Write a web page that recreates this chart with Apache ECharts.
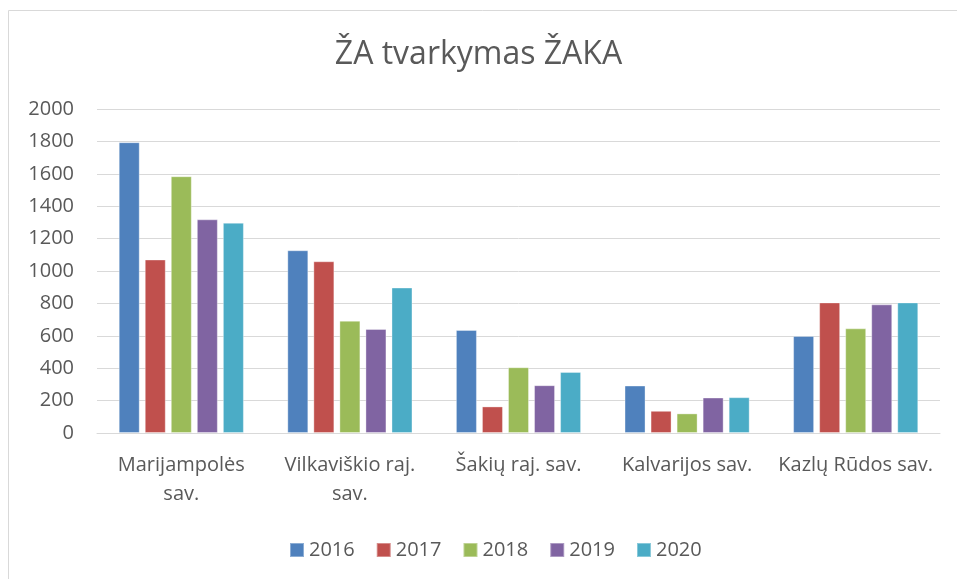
<!DOCTYPE html>
<html>
<head>
<meta charset="utf-8">
<script src="https://cdn.jsdelivr.net/npm/echarts@6/dist/echarts.min.js"></script>
<style>
  html, body { margin: 0; padding: 0; background: #fff; }
  #chart { width: 957px; height: 579px; }
</style>
</head>
<body>
<div id="chart"></div>
<script>
// categories and values
const categories = ['Marijampolės\nsav.', 'Vilkaviškio raj.\nsav.', 'Šakių raj. sav.', 'Kalvarijos sav.', 'Kazlų Rūdos sav.']
const years = ['2016', '2017', '2018', '2019', '2020']
const v2016 = [1795, 1128, 636, 293, 599]
const v2017 = [1071, 1060, 164, 137, 806]
const v2018 = [1585, 693, 406, 121, 646]
const v2019 = [1319, 642, 295, 219, 794]
const v2020 = [1298, 898, 377, 221, 806]
const yTicks = [0, 200, 400, 600, 800, 1000, 1200, 1400, 1600, 1800, 2000]

const colors = ['#4F81BD', '#C0504D', '#9BBB59', '#8064A2', '#4BACC6']
const values = [v2016, v2017, v2018, v2019, v2020]
const font = '"Open Sans", "Noto Sans", sans-serif'

const chart = echarts.init(document.getElementById('chart'), null, { renderer: 'canvas' })

chart.setOption({
  animation: false,
  color: colors,
  textStyle: { fontFamily: font },
  title: {
    text: 'ŽA tvarkymas ŽAKA',
    left: 'center',
    top: 34,
    textStyle: { fontFamily: font, fontSize: 32, fontWeight: 'normal', color: '#595959' }
  },
  graphic: [
    { type: 'line', shape: { x1: 8.5, y1: 10.5, x2: 957, y2: 10.5 }, style: { stroke: '#D9D9D9', lineWidth: 1 } },
    { type: 'line', shape: { x1: 8.5, y1: 10.5, x2: 8.5, y2: 579 }, style: { stroke: '#D9D9D9', lineWidth: 1 } }
  ],
  legend: {
    data: years,
    left: 284,
    top: 535,
    itemWidth: 14,
    itemHeight: 14,
    itemGap: 21,
    icon: 'rect',
    textStyle: { fontFamily: font, fontSize: 20, color: '#595959' }
  },
  grid: { left: 97, right: 17, top: 109, bottom: 146, containLabel: false },
  xAxis: {
    type: 'category',
    data: categories,
    axisLine: { lineStyle: { color: '#D9D9D9', width: 1 } },
    axisTick: { show: false },
    axisLabel: {
      interval: 0,
      margin: 18,
      fontFamily: font,
      fontSize: 20,
      lineHeight: 29,
      color: '#595959'
    }
  },
  yAxis: {
    type: 'value',
    min: 0,
    max: yTicks[yTicks.length - 1],
    interval: 200,
    axisLine: { show: false },
    axisTick: { show: false },
    splitLine: { lineStyle: { color: '#D9D9D9', width: 1 } },
    axisLabel: {
      margin: 23,
      fontFamily: font,
      fontSize: 20,
      color: '#595959',
      formatter: v => String(v)
    }
  },
  series: years.map((y, i) => ({
    name: y,
    type: 'bar',
    data: values[i],
    barWidth: 21,
    barGap: '24%',
    itemStyle: {
      color: colors[i],
      borderColor: 'rgba(255,255,255,0.35)',
      borderWidth: 1
    }
  }))
})
</script>
</body>
</html>
